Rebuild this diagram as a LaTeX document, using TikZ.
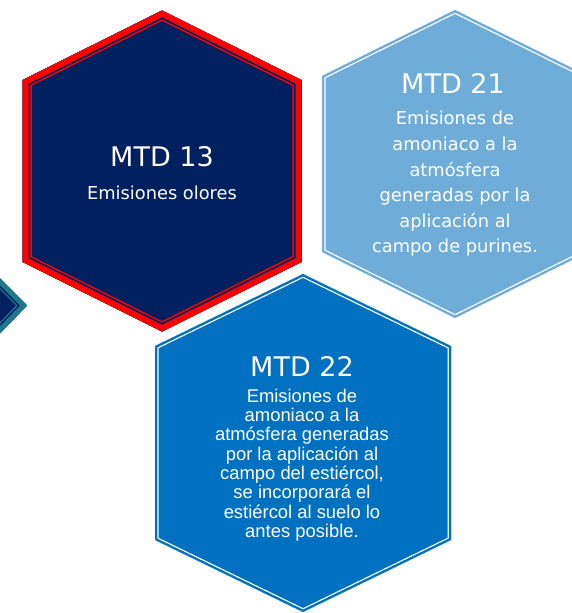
\documentclass[tikz,border=0pt]{standalone}
\usepackage{fontspec}
\setmainfont{DejaVu Sans}
\newfontfamily\arialfont{Liberation Sans}
\usepackage{tikz}
\usetikzlibrary{positioning}
\definecolor{MTDNavy}{RGB}{0,32,96}
\definecolor{MTDRed}{RGB}{255,0,0}
\definecolor{MTDSky}{RGB}{111,172,216}
\definecolor{MTDBlue}{RGB}{0,112,192}
\definecolor{MTDTeal}{RGB}{30,121,139}
% pointy-top hexagon: centre x, centre y, half width, half height, half side
\newcommand{\hexpath}[5]{(#1,#2-#4) -- (#1+#3,#2-#5) -- (#1+#3,#2+#5) -- (#1,#2+#4) -- (#1-#3,#2+#5) -- (#1-#3,#2-#5) -- cycle}
\newcommand{\tealpath}{(-50,228) -- (27,305.5) -- (-50,385) -- cycle}

\begin{document}
\begin{tikzpicture}[
    x=1pt,y=-1pt,
    line join=miter,
    title/.style={text=white, anchor=base, inner sep=0pt, font=\fontsize{27}{30}\selectfont},
    body/.style={text=white, align=center, inner sep=0pt, font=\fontsize{17.8}{25.6}\selectfont},
    arialbody/.style={text=white, align=center, inner sep=0pt, font=\arialfont\fontsize{18.4}{19.3}\selectfont}
  ]
    \useasboundingbox (0,0) rectangle (572,613);
    \clip (0,0) rectangle (572,613);
    % partial hexagon at the left edge
    \begin{scope}
      \clip \tealpath;
      \fill[MTDNavy] \tealpath;
      \draw[MTDTeal, line width=15.6pt] \tealpath;
      \draw[MTDNavy, line width=13pt] \tealpath;
      \draw[MTDTeal, line width=10pt] \tealpath;
    \end{scope}
    % MTD 13
    \begin{scope}
      \clip \hexpath{162}{171}{139.5}{160.5}{91};
      \fill[MTDNavy] \hexpath{162}{171}{139.5}{160.5}{91};
      \draw[MTDRed, line width=18.5pt] \hexpath{162}{171}{139.5}{160.5}{91};
      \draw[MTDNavy, line width=15.5pt] \hexpath{162}{171}{139.5}{160.5}{91};
      \draw[MTDRed, line width=12pt] \hexpath{162}{171}{139.5}{160.5}{91};
    \end{scope}
    % MTD 21
    \begin{scope}
      \clip \hexpath{455}{164}{133}{154}{88};
      \fill[MTDSky] \hexpath{455}{164}{133}{154}{88};
      \draw[white, line width=7pt] \hexpath{455}{164}{133}{154}{88};
      \draw[MTDSky, line width=4.5pt] \hexpath{455}{164}{133}{154}{88};
    \end{scope}
    % MTD 22
    \begin{scope}
      \clip \hexpath{303}{443}{148}{169}{97};
      \fill[MTDBlue] \hexpath{303}{443}{148}{169}{97};
      \draw[white, line width=7pt] \hexpath{303}{443}{148}{169}{97};
      \draw[MTDBlue, line width=4.5pt] \hexpath{303}{443}{148}{169}{97};
    \end{scope}

    \node[title] (t13) at (162,166) {MTD 13};
    \node[body, anchor=base] (d13) at (162,199) {Emisiones olores};
    \node[title] (t21) at (453,93) {MTD 21};
    \node[body] (d21) at (455,184) {Emisiones de\\amoniaco a la\\atmósfera\\generadas por la\\aplicación al\\campo de purines.};
    \node[title] (t22) at (302,376) {MTD 22};
    \node[arialbody] (d22) at (302,465) {Emisiones de\\amoniaco a la\\atmósfera generadas\\por la aplicación al\\campo del estiércol,\\se incorporará el\\estiércol al suelo lo\\antes posible.};
  \end{tikzpicture}
\end{document}
